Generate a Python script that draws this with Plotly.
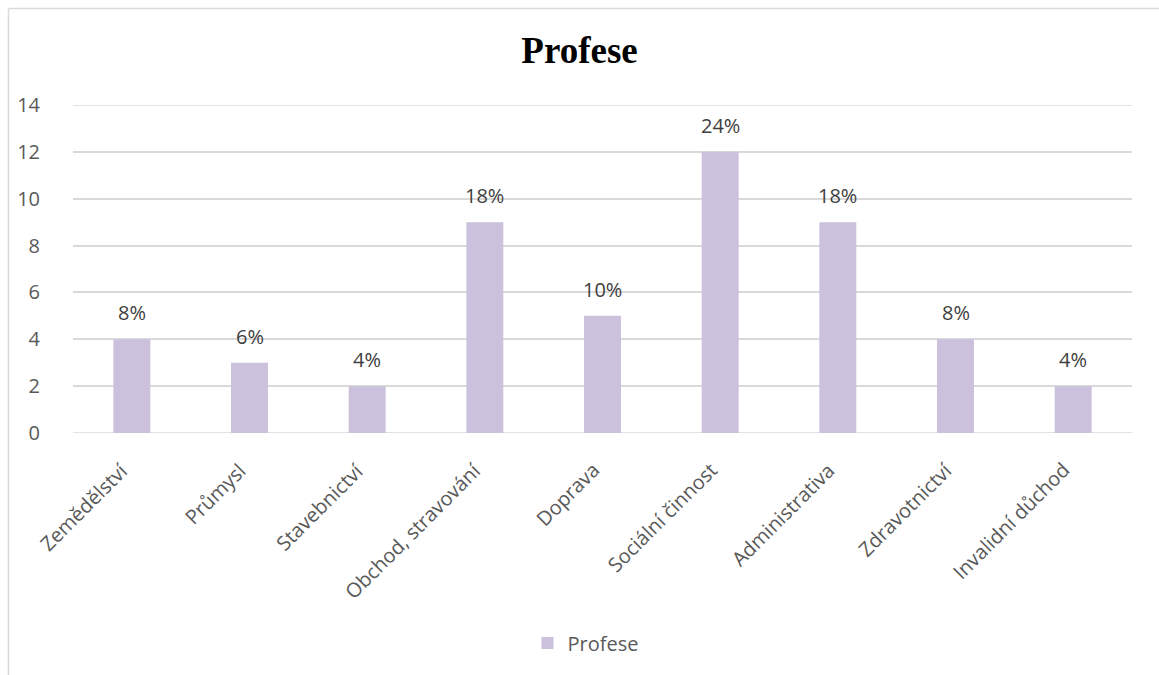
import plotly.graph_objects as go

categories = ["Zemědělství", "Průmysl", "Stavebnictví", "Obchod, stravování", "Doprava",
              "Sociální činnost", "Administrativa", "Zdravotnictví", "Invalidní důchod"]
values = [4, 3, 2, 9, 5, 12, 9, 4, 2]
y_ticks = [0, 2, 4, 6, 8, 10, 12, 14]

total = sum(values)
labels = [f"{round(v / total * 100)}%" for v in values]

W, H = 1159, 675
L, R, T, B = 73, 27, 105, 242
pw, ph = W - L - R, H - T - B

font_fam = "Open Sans, Liberation Sans, sans-serif"
grid = "#D9D9D9"
txt = "#595959"

fig = go.Figure()
fig.add_trace(go.Bar(
    x=categories, y=values, name="Profese",
    marker=dict(color="#CBC1DC", line=dict(width=0)),
))

annotations = [
    dict(x=c, y=v, xref="x", yref="y", text=t, showarrow=False, yanchor="bottom", yshift=11,
         font=dict(family=font_fam, size=20, color="#404040"))
    for c, v, t in zip(categories, values, labels)
]
# rotated category labels
annotations += [
    dict(x=c, y=0, xref="x", yref="y", text=c, showarrow=False, textangle=-45,
         xanchor="right", yanchor="top", xshift=5, yshift=-21,
         font=dict(family=font_fam, size=20, color=txt))
    for c in categories
]

shapes = [
    dict(type="line", xref="paper", yref="paper",
         x0=(8.5 - L) / pw, x1=(W + 5 - L) / pw, y0=(H - B - 8.5) / ph, y1=(H - B - 8.5) / ph,
         line=dict(color=grid, width=1.5)),
    dict(type="line", xref="paper", yref="paper",
         x0=(8.5 - L) / pw, x1=(8.5 - L) / pw, y0=(H - B - 8.5) / ph, y1=(H - B - H - 5) / ph,
         line=dict(color=grid, width=1.5)),
]
for yv in (y_ticks[0], y_ticks[-1]):
    shapes.append(dict(type="line", xref="paper", yref="y", x0=0, x1=1, y0=yv, y1=yv,
                       line=dict(color=grid, width=1.5), layer="below"))

fig.update_layout(
    width=W, height=H,
    margin=dict(l=L, r=R, t=T, b=B),
    paper_bgcolor="white", plot_bgcolor="white",
    bargap=0.686,
    showlegend=True,
    title=dict(text="<b>Profese</b>", x=0.5, xanchor="center", y=1 - 50 / H, yanchor="middle",
               font=dict(family="Liberation Serif, Times New Roman, serif", size=37, color="black")),
    legend=dict(orientation="h", x=0.5 - 17 / pw, xanchor="center", y=(H - B - 643) / ph, yanchor="middle",
                font=dict(family=font_fam, size=20, color=txt), itemwidth=30),
    xaxis=dict(range=[-0.5, len(categories) - 0.5], autorange=False,
               showticklabels=False, showgrid=False, showline=False, ticks="", zeroline=False),
    yaxis=dict(range=[0, 14], autorange=False, tickvals=y_ticks,
               tickfont=dict(family=font_fam, size=20, color=txt),
               showgrid=True, gridcolor=grid, gridwidth=1.5, zeroline=False, showline=False,
               ticks="outside", ticklen=28, tickcolor="rgba(0,0,0,0)", automargin=False),
    annotations=annotations,
    shapes=shapes,
)

fig.write_html("out.html")
